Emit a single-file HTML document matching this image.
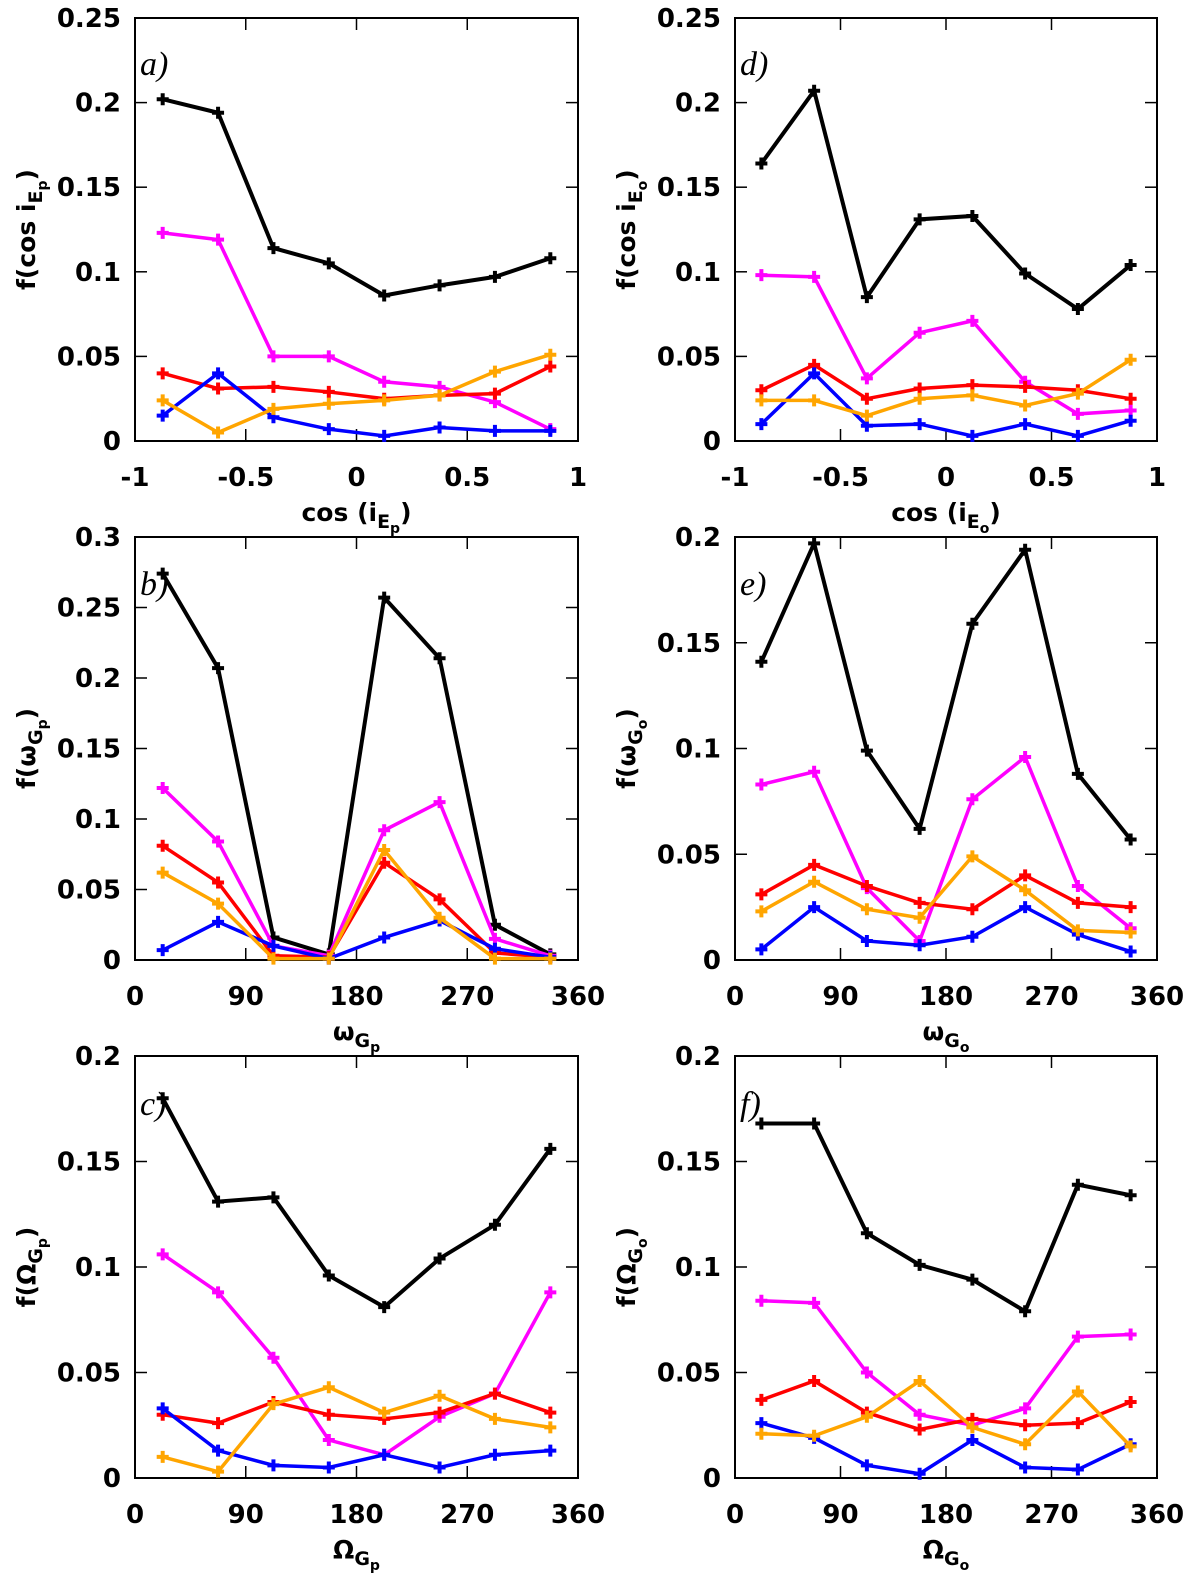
<!DOCTYPE html>
<html><head><meta charset="utf-8"><style>
html,body{margin:0;padding:0;background:#fff;}
svg{display:block;}
text{font-family:"DejaVu Sans","Liberation Sans",sans-serif;font-weight:bold;fill:#000;}
.pl{font-family:"Liberation Serif",serif;font-style:italic;font-weight:normal;font-size:34px;}
</style></head><body>
<svg id="fig" width="1200" height="1581" viewBox="0 0 1200 1581" xmlns="http://www.w3.org/2000/svg"></svg>
<script>
const colors = ["#000000","#ff00ff","#ff0000","#0000ff","#ffa500"];
const seriesNames = ["black","magenta","red","blue","orange"];
const cosCats = [-0.875,-0.625,-0.375,-0.125,0.125,0.375,0.625,0.875];
const angCats = [22.5,67.5,112.5,157.5,202.5,247.5,292.5,337.5];
const aBlack=[0.202,0.194,0.114,0.105,0.086,0.092,0.097,0.108];
const aMag=[0.123,0.119,0.050,0.050,0.035,0.032,0.023,0.007];
const aRed=[0.040,0.031,0.032,0.029,0.025,0.027,0.028,0.044];
const aBlue=[0.015,0.040,0.014,0.007,0.003,0.008,0.006,0.006];
const aOrange=[0.024,0.005,0.019,0.022,0.024,0.027,0.041,0.051];
const dBlack=[0.164,0.207,0.085,0.131,0.133,0.099,0.078,0.104];
const dMag=[0.098,0.097,0.037,0.064,0.071,0.035,0.016,0.018];
const dRed=[0.030,0.045,0.025,0.031,0.033,0.032,0.030,0.025];
const dBlue=[0.010,0.040,0.009,0.010,0.003,0.010,0.003,0.012];
const dOrange=[0.024,0.024,0.015,0.025,0.027,0.021,0.028,0.048];
const bBlack=[0.274,0.207,0.016,0.004,0.257,0.214,0.025,0.004];
const bMag=[0.122,0.084,0.010,0.003,0.092,0.112,0.015,0.003];
const bRed=[0.081,0.055,0.003,0.002,0.069,0.043,0.005,0.002];
const bBlue=[0.007,0.027,0.010,0.001,0.016,0.028,0.008,0.002];
const bOrange=[0.062,0.040,0.001,0.001,0.078,0.030,0.001,0.001];
const eBlack=[0.141,0.197,0.099,0.062,0.159,0.194,0.088,0.057];
const eMag=[0.083,0.089,0.034,0.009,0.076,0.096,0.035,0.015];
const eRed=[0.031,0.045,0.035,0.027,0.024,0.040,0.027,0.025];
const eBlue=[0.005,0.025,0.009,0.007,0.011,0.025,0.012,0.004];
const eOrange=[0.023,0.037,0.024,0.020,0.049,0.033,0.014,0.013];
const cBlack=[0.180,0.131,0.133,0.096,0.081,0.104,0.120,0.156];
const cMag=[0.106,0.088,0.057,0.018,0.011,0.029,0.040,0.088];
const cRed=[0.030,0.026,0.036,0.030,0.028,0.031,0.040,0.031];
const cBlue=[0.033,0.013,0.006,0.005,0.011,0.005,0.011,0.013];
const cOrange=[0.010,0.003,0.035,0.043,0.031,0.039,0.028,0.024];
const fBlack=[0.168,0.168,0.116,0.101,0.094,0.079,0.139,0.134];
const fMag=[0.084,0.083,0.050,0.030,0.025,0.033,0.067,0.068];
const fRed=[0.037,0.046,0.031,0.023,0.028,0.025,0.026,0.036];
const fBlue=[0.026,0.019,0.006,0.002,0.018,0.005,0.004,0.016];
const fOrange=[0.021,0.020,0.029,0.046,0.024,0.016,0.041,0.015];
const cosTicks=["-1","-0.5","0","0.5","1"];
const angTicks=["0","90","180","270","360"];
const yTicks25=["0","0.05","0.1","0.15","0.2","0.25"];
const yTicks30=["0","0.05","0.1","0.15","0.2","0.25","0.3"];
const yTicks20=["0","0.05","0.1","0.15","0.2"];

const NS="http://www.w3.org/2000/svg";
const svg=document.getElementById('fig');
function mk(tag,attrs,parent){const e=document.createElementNS(NS,tag);for(const k in attrs)e.setAttribute(k,attrs[k]);(parent||svg).appendChild(e);return e;}

const panels=[
 {id:"a",x0:135,x1:578,y0:18,y1:441,xmin:-1,xmax:1,ymax:0.25,cats:cosCats,xt:cosTicks,yt:yTicks25,s:[aBlack,aMag,aRed,aBlue,aOrange],yl:['f(cos i','E','p',')'],xl:['cos (i','E','p',')'],lab:"a)",labY:75},
 {id:"d",x0:735,x1:1157,y0:18,y1:441,xmin:-1,xmax:1,ymax:0.25,cats:cosCats,xt:cosTicks,yt:yTicks25,s:[dBlack,dMag,dRed,dBlue,dOrange],yl:['f(cos i','E','o',')'],xl:['cos (i','E','o',')'],lab:"d)",labY:75},
 {id:"b",x0:135,x1:578,y0:537,y1:960,xmin:0,xmax:360,ymax:0.3,cats:angCats,xt:angTicks,yt:yTicks30,s:[bBlack,bMag,bRed,bBlue,bOrange],yl:['f(ω','G','p',')'],xl:['ω','G','p',''],lab:"b)",labY:595},
 {id:"e",x0:735,x1:1157,y0:537,y1:960,xmin:0,xmax:360,ymax:0.2,cats:angCats,xt:angTicks,yt:yTicks20,s:[eBlack,eMag,eRed,eBlue,eOrange],yl:['f(ω','G','o',')'],xl:['ω','G','o',''],lab:"e)",labY:595},
 {id:"c",x0:135,x1:578,y0:1056,y1:1478,xmin:0,xmax:360,ymax:0.2,cats:angCats,xt:angTicks,yt:yTicks20,s:[cBlack,cMag,cRed,cBlue,cOrange],yl:['f(Ω','G','p',')'],xl:['Ω','G','p',''],lab:"c)",labY:1115},
 {id:"f",x0:735,x1:1157,y0:1056,y1:1478,xmin:0,xmax:360,ymax:0.2,cats:angCats,xt:angTicks,yt:yTicks20,s:[fBlack,fMag,fRed,fBlue,fOrange],yl:['f(Ω','G','o',')'],xl:['Ω','G','o',''],lab:"f)",labY:1115}
];

panels.forEach(p=>{
 const g=mk('g',{});
 
 
 const X=v=>p.x0+(v-p.xmin)/(p.xmax-p.xmin)*(p.x1-p.x0);
 const Y=v=>p.y1-v/p.ymax*(p.y1-p.y0);
 p.yt.forEach(t=>{const v=parseFloat(t),y=Y(v);
  mk('line',{x1:p.x0,x2:p.x0+12,y1:y,y2:y,stroke:'#000','stroke-width':1.5},g);
  mk('line',{x1:p.x1,x2:p.x1-12,y1:y,y2:y,stroke:'#000','stroke-width':1.5},g);
  const tx=mk('text',{x:p.x0-14,y:y+9,'text-anchor':'end','font-size':26},g);tx.textContent=t;
  
  
 });
 p.xt.forEach(t=>{const v=parseFloat(t),x=X(v);
  mk('line',{x1:x,x2:x,y1:p.y1,y2:p.y1-12,stroke:'#000','stroke-width':1.5},g);
  mk('line',{x1:x,x2:x,y1:p.y0,y2:p.y0+12,stroke:'#000','stroke-width':1.5},g);
  const tx=mk('text',{x:x,y:p.y1+45,'text-anchor':'middle','font-size':26},g);tx.textContent=t;
  
  
 });
 const fr=mk('rect',{x:p.x0,y:p.y0,width:p.x1-p.x0,height:p.y1-p.y0,fill:'none',stroke:'#000','stroke-width':2},g);
 
 
 p.s.forEach((vals,si)=>{
  const pts=vals.map((v,i)=>X(p.cats[i])+','+Y(v)).join(' ');
  const pl=mk('polyline',{points:pts,fill:'none',stroke:colors[si],'stroke-width':si==0?4:3.5,'stroke-linejoin':'miter'},g);
  
  
  vals.forEach((v,i)=>{const x=X(p.cats[i]),y=Y(v);
   const m=mk('path',{d:`M${x-6},${y}H${x+6}M${x},${y-6}V${y+6}`,stroke:colors[si],'stroke-width':4},g);
   
   
  });
 });
 const lab=mk('text',{x:p.x0+5,y:p.labY,class:'pl'},g);lab.textContent=p.lab;
 
 
 const xm=(p.x0+p.x1)/2;
 const xl=mk('text',{x:xm,y:p.y1+80,'text-anchor':'middle','font-size':25},g);
 
 
 xl.innerHTML=`${p.xl[0]}<tspan font-size="19" dy="7">${p.xl[1]}</tspan><tspan font-size="14" dy="5">${p.xl[2]}</tspan><tspan dy="-12">${p.xl[3]}</tspan>`;
 const ym=(p.y0+p.y1)/2;
 const yl=mk('text',{x:0,y:0,'text-anchor':'middle','font-size':25,transform:`translate(${p.x0-100},${ym}) rotate(-90)`},g);
 
 
 yl.innerHTML=`${p.yl[0]}<tspan font-size="19" dy="7">${p.yl[1]}</tspan><tspan font-size="14" dy="5">${p.yl[2]}</tspan><tspan dy="-12">${p.yl[3]}</tspan>`;
});
</script>
</body></html>
